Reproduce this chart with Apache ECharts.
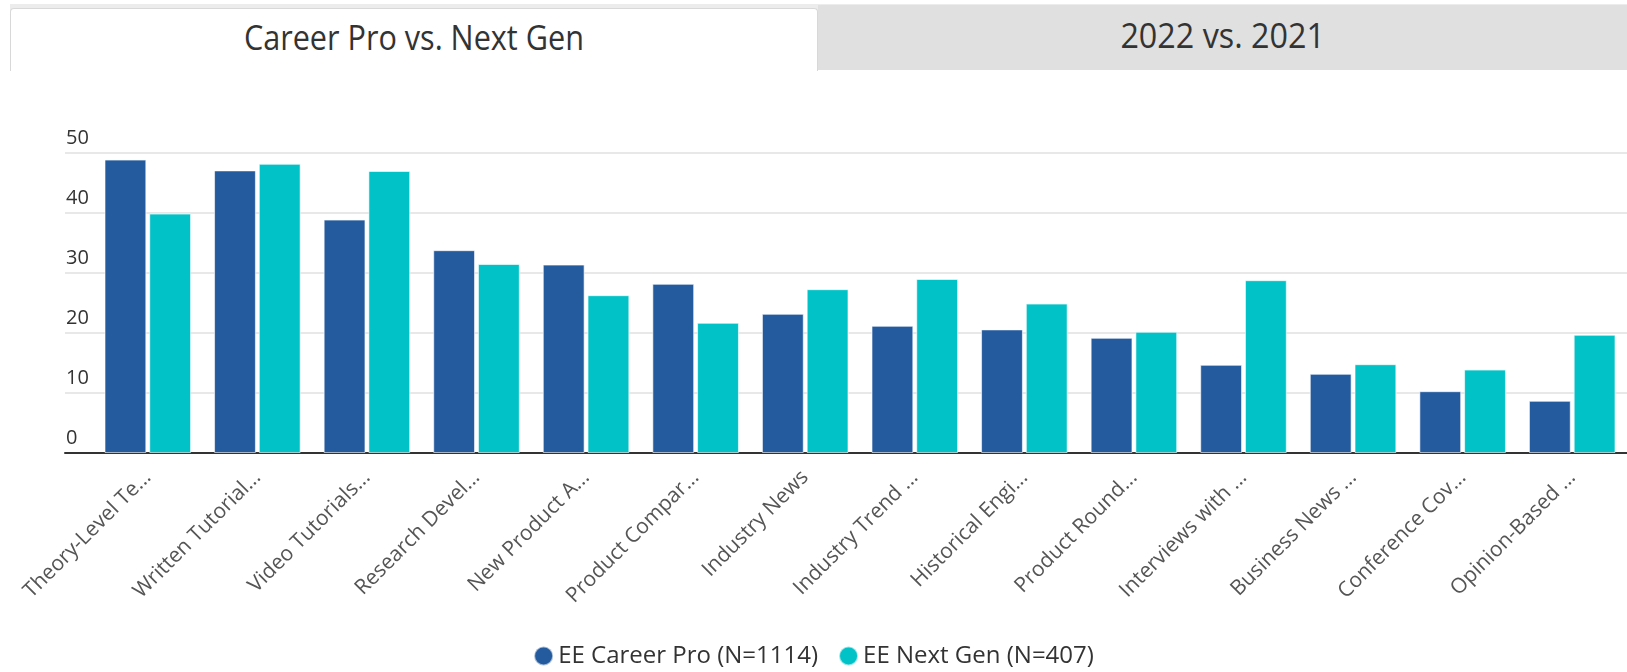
<!DOCTYPE html>
<html>
<head>
<meta charset="utf-8">
<script src="https://cdn.jsdelivr.net/npm/echarts@6/dist/echarts.min.js"></script>
<style>
html, body { margin: 0; padding: 0; background: #fff; }
#wrap { position: relative; width: 1627px; height: 672px; overflow: hidden; }
#chart { position: absolute; left: 0; top: 0; width: 1627px; height: 672px; }
.tabs { position: absolute; left: 10px; top: 4px; width: 1617px; height: 66px; background: #ececec; z-index: 2; }
.tab { position: absolute; display: flex; align-items: center; justify-content: center;
	font-family: "Open Sans", sans-serif; font-size: 34px; color: #333; }
.tab span { display: inline-block; transform: scaleX(0.9); margin-top: -6px; }
.tab.active { left: 0; top: 4px; width: 806px; height: 62px; background: #fff;
	border: 1px solid #d8d8d8; border-bottom: none; border-radius: 4px 4px 0 0; }
.tab.off { left: 808px; top: 1px; width: 809px; height: 65px; background: #e0e0e0; }
.tab.off span { transform: scaleX(0.95); }
</style>
</head>
<body>
<div id="wrap">
	<div id="chart"></div>
	<div class="tabs">
		<div class="tab active"><span>Career Pro vs. Next Gen</span></div>
		<div class="tab off"><span>2022 vs. 2021</span></div>
	</div>
</div>
<script>
var categories = ['Theory-Level Te...', 'Written Tutorial...', 'Video Tutorials...', 'Research Devel...',
	'New Product A...', 'Product Compar...', 'Industry News', 'Industry Trend ...', 'Historical Engi...',
	'Product Round...', 'Interviews with ...', 'Business News ...', 'Conference Cov...', 'Opinion-Based ...'];
var careerPro = [48.9, 47.1, 38.9, 33.8, 31.4, 28.2, 23.2, 21.2, 20.6, 19.2, 14.7, 13.2, 10.3, 8.7];
var nextGen = [39.9, 48.2, 47.0, 31.5, 26.3, 21.7, 27.3, 29.0, 24.9, 20.2, 28.8, 14.8, 13.9, 19.7];
var seriesNames = ['EE Career Pro (N=1114)', 'EE Next Gen (N=407)'];
var yMin = 0, yMax = 50, yStep = 10;

var chart = echarts.init(document.getElementById('chart'));
var font = '"Open Sans", sans-serif';
var axisLine = { show: true, lineStyle: { color: '#333', width: 2 } };
var gridLine = { show: true, lineStyle: { color: '#e8e8e8', width: 2 } };

var option = {
	animation: false,
	textStyle: { fontFamily: font },
	color: ['#245a9e', '#00c2c7'],
	legend: {
		bottom: 4,
		left: 'center',
		padding: 0,
		icon: 'circle',
		itemWidth: 19,
		itemHeight: 19,
		itemGap: 20,
		textStyle: { fontSize: 24, color: '#333', fontFamily: font },
		data: seriesNames
	},
	grid: [
		{ left: 93, width: 1536, top: 153, bottom: 219 },
		{ left: 65, width: 28, top: 153, bottom: 219 }
	],
	xAxis: [{
		type: 'category',
		gridIndex: 0,
		data: categories,
		axisLine: axisLine,
		axisTick: { length: 6, lineStyle: { color: '#333' } },
		axisLabel: { rotate: 45, fontSize: 21, color: '#555', margin: 21, fontFamily: font, interval: 0 }
	}, {
		type: 'category',
		gridIndex: 1,
		data: [''],
		axisLine: axisLine,
		axisTick: { show: false },
		axisLabel: { show: false }
	}],
	yAxis: [{
		type: 'value',
		gridIndex: 0,
		min: yMin, max: yMax, interval: yStep,
		axisLabel: { show: false },
		splitLine: gridLine
	}, {
		type: 'value',
		gridIndex: 1,
		min: yMin, max: yMax, interval: yStep,
		axisLabel: { inside: true, align: 'left', verticalAlign: 'bottom', margin: 1,
			padding: [0, 0, 5, 0], fontSize: 20, color: '#333', fontFamily: font },
		splitLine: gridLine
	}],
	series: [{
		name: seriesNames[0],
		type: 'bar',
		xAxisIndex: 0, yAxisIndex: 0,
		data: careerPro,
		barCategoryGap: '21%',
		barGap: '7%',
		itemStyle: { borderColor: 'rgba(255,255,255,0.6)', borderWidth: 1 }
	}, {
		name: seriesNames[1],
		type: 'bar',
		xAxisIndex: 0, yAxisIndex: 0,
		data: nextGen,
		barCategoryGap: '21%',
		barGap: '7%',
		itemStyle: { borderColor: 'rgba(255,255,255,0.6)', borderWidth: 1 }
	}]
};
chart.setOption(option);
</script>
</body>
</html>
